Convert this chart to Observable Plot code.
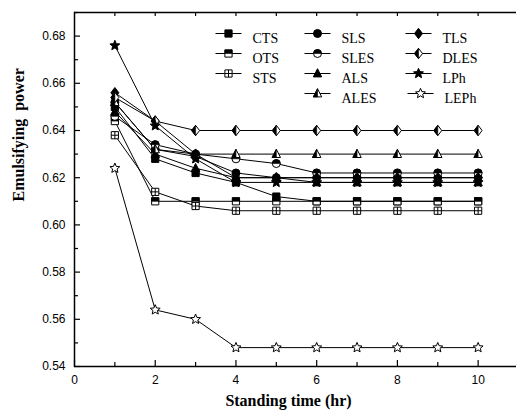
<!DOCTYPE html>
<html>
<head>
<meta charset="utf-8">
<script src="https://cdn.jsdelivr.net/npm/d3@7"></script>
<script src="https://cdn.jsdelivr.net/npm/@observablehq/plot@0.6"></script>
<style>
  html, body { margin: 0; padding: 0; background: #fff; }
</style>
</head>
<body>
<div id="chart"></div>
<script>
// Standing time (hr)
const hours = [1, 2, 3, 4, 5, 6, 7, 8, 9, 10];

// Emulsifying power for each surfactant
const CTS  = [0.650, 0.628, 0.622, 0.618, 0.612, 0.610, 0.610, 0.610, 0.610, 0.610];
const OTS  = [0.644, 0.610, 0.610, 0.610, 0.610, 0.610, 0.610, 0.610, 0.610, 0.610];
const STS  = [0.638, 0.614, 0.608, 0.606, 0.606, 0.606, 0.606, 0.606, 0.606, 0.606];
const SLS  = [0.652, 0.632, 0.629, 0.622, 0.620, 0.620, 0.620, 0.620, 0.620, 0.620];
const SLES = [0.646, 0.634, 0.630, 0.628, 0.626, 0.622, 0.622, 0.622, 0.622, 0.622];
const ALS  = [0.648, 0.630, 0.624, 0.620, 0.620, 0.618, 0.618, 0.618, 0.618, 0.618];
const ALES = [0.652, 0.632, 0.630, 0.630, 0.630, 0.630, 0.630, 0.630, 0.630, 0.630];
const TLS  = [0.656, 0.644, 0.630, 0.620, 0.620, 0.620, 0.620, 0.620, 0.620, 0.620];
const DLES = [0.654, 0.644, 0.640, 0.640, 0.640, 0.640, 0.640, 0.640, 0.640, 0.640];
const LPh  = [0.676, 0.642, 0.628, 0.618, 0.618, 0.618, 0.618, 0.618, 0.618, 0.618];
const LEPh = [0.624, 0.564, 0.560, 0.548, 0.548, 0.548, 0.548, 0.548, 0.548, 0.548];

// Axis ticks
const xMajor = [0, 2, 4, 6, 8, 10];
const xMinor = [1, 3, 5, 7, 9];
const xTop   = [1, 2, 3, 4, 5, 6, 7, 8, 9, 10];
const yMajor = [0.54, 0.56, 0.58, 0.60, 0.62, 0.64, 0.66, 0.68];
const yMinor = [0.55, 0.57, 0.59, 0.61, 0.63, 0.65, 0.67, 0.69];

// Legend columns
const legendColumns = [
  ["CTS", "OTS", "STS"],
  ["SLS", "SLES", "ALS", "ALES"],
  ["TLS", "DLES", "LPh", "LEPh"]
];

// Custom marker shapes (size -> radius in px)
function sym(fn) {
  return { draw(c, size) { fn(c, Math.sqrt(size / Math.PI)); } };
}
const S = {
  square:     sym((c, r) => { const h = r * 0.9; c.rect(-h, -h, 2 * h, 2 * h); }),
  squareTop:  sym((c, r) => { const h = r * 0.9; c.rect(-h, -h, 2 * h, h); }),
  grid:       sym((c, r) => { const h = r * 0.9; c.rect(-h, -h, 2 * h, 2 * h);
                              c.moveTo(-h, 0); c.lineTo(h, 0); c.moveTo(0, -h); c.lineTo(0, h); }),
  circle:     sym((c, r) => { c.moveTo(r, 0); c.arc(0, 0, r, 0, 2 * Math.PI); }),
  circleTop:  sym((c, r) => { c.moveTo(r, 0); c.arc(0, 0, r, 0, Math.PI, true); c.closePath(); }),
  diamond:    sym((c, r) => { c.moveTo(0, -1.3 * r); c.lineTo(r, 0); c.lineTo(0, 1.3 * r); c.lineTo(-r, 0); c.closePath(); }),
  diamondLeft:sym((c, r) => { c.moveTo(0, -1.3 * r); c.lineTo(-r, 0); c.lineTo(0, 1.3 * r); c.closePath(); }),
  triangle:   sym((c, r) => { c.moveTo(0, -1.2 * r); c.lineTo(1.05 * r, 0.85 * r); c.lineTo(-1.05 * r, 0.85 * r); c.closePath(); }),
  triangleLeft: sym((c, r) => { c.moveTo(0, -1.2 * r); c.lineTo(0, 0.85 * r); c.lineTo(-1.05 * r, 0.85 * r); c.closePath(); }),
  star:       sym((c, r) => {
                const R = 1.3 * r, ri = R * 0.45;
                for (let i = 0; i < 10; i++) {
                  const a = -Math.PI / 2 + i * Math.PI / 5, rr = i % 2 ? ri : R;
                  const px = rr * Math.cos(a), py = rr * Math.sin(a);
                  i ? c.lineTo(px, py) : c.moveTo(px, py);
                }
                c.closePath();
              }),
  dash:       sym((c, r) => { c.moveTo(-13, 0); c.lineTo(13, 0); })
};

const series = [
  { name: "CTS",  values: CTS,  shape: S.square,   fill: "black" },
  { name: "OTS",  values: OTS,  shape: S.square,   fill: "white", half: S.squareTop },
  { name: "STS",  values: STS,  shape: S.grid,     fill: "white" },
  { name: "SLS",  values: SLS,  shape: S.circle,   fill: "black" },
  { name: "SLES", values: SLES, shape: S.circle,   fill: "white", half: S.circleTop },
  { name: "ALS",  values: ALS,  shape: S.triangle, fill: "black" },
  { name: "ALES", values: ALES, shape: S.triangle, fill: "white", half: S.triangleLeft },
  { name: "TLS",  values: TLS,  shape: S.diamond,  fill: "black" },
  { name: "DLES", values: DLES, shape: S.diamond,  fill: "white", half: S.diamondLeft },
  { name: "LPh",  values: LPh,  shape: S.star,     fill: "black" },
  { name: "LEPh", values: LEPh, shape: S.star,     fill: "white" }
];
const byName = new Map(series.map(s => [s.name, s]));

const W = 516, H = 414;
const mL = 74, mR = -2, mT = 12, mB = 48;
const plotW = W - mL - mR, plotH = H - mT - mB;
const R = 4;

function markerMarks(data, s, opts) {
  const marks = [Plot.dot(data, { ...opts, symbol: s.shape, r: R, fill: s.fill, stroke: "black", strokeWidth: 1 })];
  if (s.half) marks.push(Plot.dot(data, { ...opts, symbol: s.half, r: R, fill: "black", stroke: "black", strokeWidth: 0.6 }));
  return marks;
}

const marks = [];

// Frame and inward ticks
marks.push(Plot.frame({ stroke: "black", strokeWidth: 1.5 }));
marks.push(Plot.ruleX(xMajor, { x: d => d, insetTop: plotH - 6, stroke: "black", strokeWidth: 1.2 }));
marks.push(Plot.ruleX(xMinor, { x: d => d, insetTop: plotH - 4, stroke: "black", strokeWidth: 1.2 }));
marks.push(Plot.ruleX(xTop, { x: d => d, insetBottom: plotH - 4, stroke: "black", strokeWidth: 1.2 }));
marks.push(Plot.ruleY(yMajor, { y: d => d, insetRight: plotW - 6, stroke: "black", strokeWidth: 1.2 }));
marks.push(Plot.ruleY(yMinor, { y: d => d, insetRight: plotW - 4, stroke: "black", strokeWidth: 1.2 }));

// Tick labels
marks.push(Plot.axisX(xMajor, { tickSize: 0, tickPadding: 9, label: null, fontSize: 12, tickFormat: d => String(d) }));
marks.push(Plot.axisY(yMajor, { tickSize: 0, tickPadding: 9, label: null, fontSize: 12, tickFormat: d => d.toFixed(2) }));

// Axis titles
marks.push(Plot.text(["Standing time (hr)"], {
  text: d => d, frameAnchor: "bottom", dx: -8, dy: 39,
  fontFamily: "Liberation Serif", fontWeight: "bold", fontSize: 16, fill: "black"
}));
marks.push(Plot.text(["Emulsifying  power"], {
  text: d => d, frameAnchor: "left", dx: -56, dy: 12, rotate: -90,
  fontFamily: "Liberation Serif", fontWeight: "bold", fontSize: 16, fill: "black"
}));

// Series lines, then markers
for (const s of series) {
  const rows = hours.map((h, i) => ({ hour: h, value: s.values[i] }));
  marks.push(Plot.line(rows, { x: "hour", y: "value", stroke: "black", strokeWidth: 1 }));
}
for (const s of series) {
  const rows = hours.map((h, i) => ({ hour: h, value: s.values[i] }));
  marks.push(...markerMarks(rows, s, { x: "hour", y: "value" }));
}

// Legend
const colDx = [154, 243, 344];
legendColumns.forEach((col, ci) => {
  col.forEach((name, ri) => {
    const s = byName.get(name);
    const dx = colDx[ci] + (name === "LEPh" ? 2 : 0);
    const dy = 21 + ri * 20;
    const at = { frameAnchor: "top-left", dx, dy };
    marks.push(Plot.dot([0], { ...at, symbol: S.dash, r: R, stroke: "black", strokeWidth: 1 }));
    marks.push(...markerMarks([0], s, at));
    marks.push(Plot.text([name], {
      text: d => d, frameAnchor: "top-left", dx: dx + 24, dy, textAnchor: "start",
      fontFamily: "Liberation Serif", fontSize: 14, fill: "black"
    }));
  });
});

const chart = Plot.plot({
  width: W, height: H,
  marginLeft: mL, marginRight: mR, marginTop: mT, marginBottom: mB,
  x: { domain: [0, 11] },
  y: { domain: [0.54, 0.69] },
  style: { fontFamily: "Liberation Sans", fontSize: "12px", color: "black", background: "white", overflow: "visible" },
  marks
});
document.getElementById("chart").appendChild(chart);
</script>
</body>
</html>
